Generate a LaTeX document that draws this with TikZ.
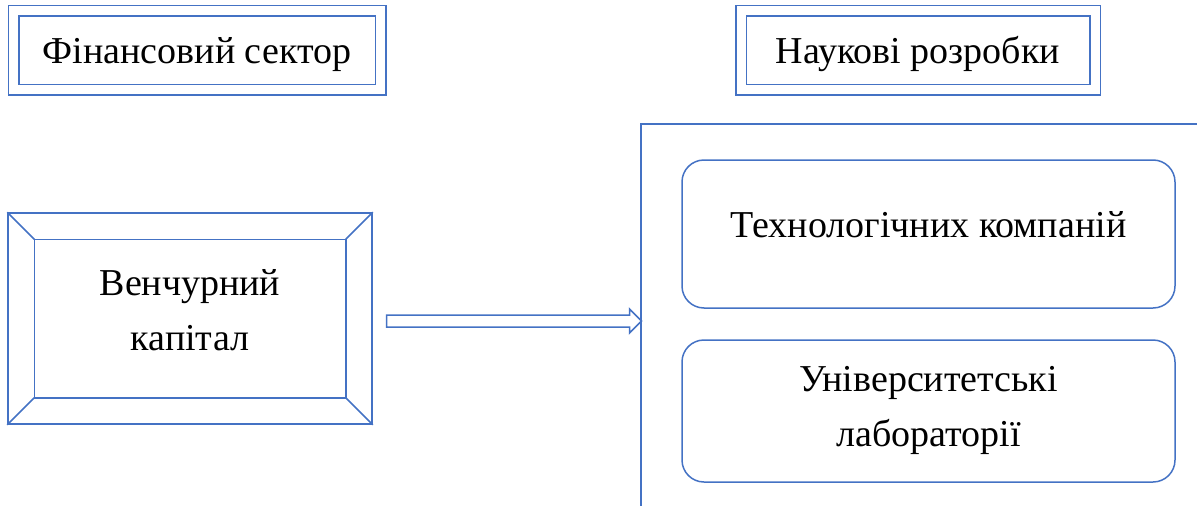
\documentclass[tikz,border=0pt]{standalone}
\usepackage{fontspec}
\setmainfont{Liberation Serif}
\usetikzlibrary{positioning}
\definecolor{boxblue}{RGB}{68,114,196}

\tikzset{
    dblbox/.style={draw=boxblue, double=white, double distance=9pt, line width=1.5pt,
        minimum width=367pt, minimum height=79pt, text depth=0pt, font=\fontsize{38}{44}\selectfont},
    roundbox/.style={draw=boxblue, line width=1.5pt, rounded corners=22pt,
        minimum width=493pt, align=center, font=\fontsize{38}{55}\selectfont},
}

\begin{document}
\begin{tikzpicture}[x=1pt,y=-1pt]
    \useasboundingbox (0,0) rectangle (1197,506);
    % Top headings
    \node[dblbox] (fin) at (197,50) {Фінансовий сектор};
    \node[dblbox, minimum width=354pt] (sci) at (918,50) {Наукові розробки};
    % Venture capital frame
    \node[draw=boxblue, line width=1.5pt, minimum width=364pt, minimum height=211pt,
        align=center, text depth=18pt, font=\fontsize{38}{55}\selectfont] (vc) at (190,318.5) {Венчурний\\капітал};
    \draw[boxblue, line width=1.5pt] ([shift={(27,27)}]vc.north west) rectangle ([shift={(-27,-27)}]vc.south east);
    \draw[boxblue, line width=1.5pt] (vc.north west) -- ++(27,27);
    \draw[boxblue, line width=1.5pt] (vc.north east) -- ++(-27,27);
    \draw[boxblue, line width=1.5pt] (vc.south west) -- ++(27,-27);
    \draw[boxblue, line width=1.5pt] (vc.south east) -- ++(-27,-27);
    % Bracket on the right
    \coordinate (brtop) at (1197,124);
    \coordinate (brbot) at (641,506);
    \draw[boxblue, line width=1.5pt] (brtop) -| (brbot);
    % Research boxes
    \node[roundbox, minimum height=148pt, text depth=20pt] (tech) at (928.5,234) {Технологічних компаній};
    \node[roundbox, minimum height=142pt, text depth=10pt] (uni) at (928.5,411) {Університетські\\лабораторії};
    % Block arrow
    \coordinate (tip) at (641.5,321);
    \coordinate (tail) at (386.5,321);
    \draw[boxblue, line width=1.5pt, line join=miter]
        ([shift={(0,-6)}]tail) -- ([shift={(-12,-6)}]tip) -- ([shift={(-12,-12)}]tip) -- (tip)
        -- ([shift={(-12,12)}]tip) -- ([shift={(-12,6)}]tip) -- ([shift={(0,6)}]tail) -- cycle;
\end{tikzpicture}
\end{document}
